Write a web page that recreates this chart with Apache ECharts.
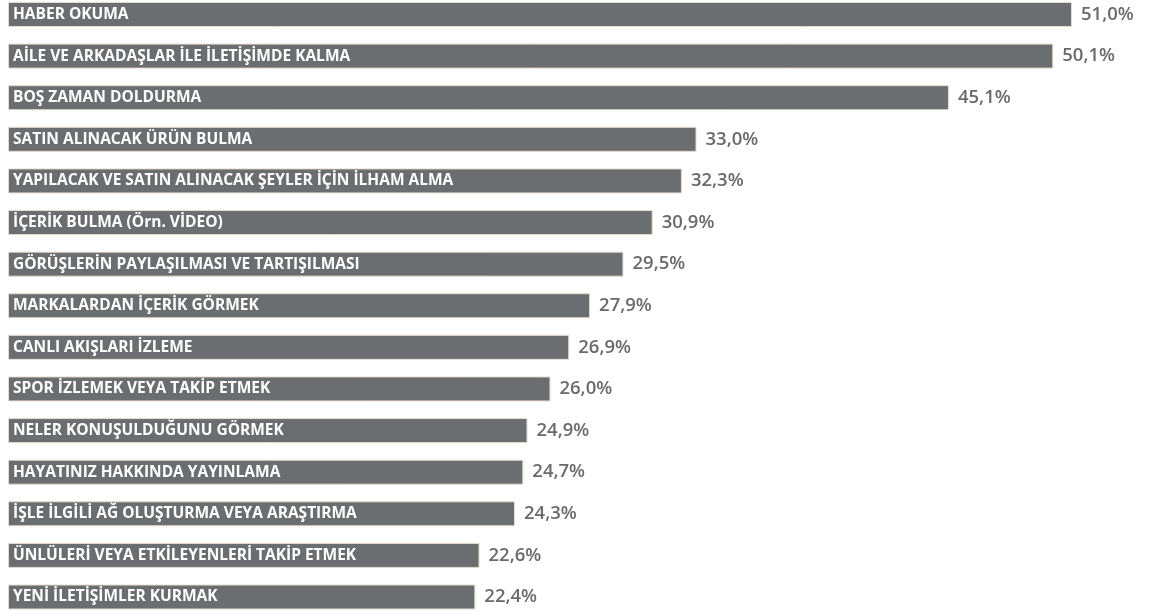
<!DOCTYPE html>
<html>
<head>
<meta charset="utf-8">
<script src="https://cdn.jsdelivr.net/npm/echarts@6/dist/echarts.min.js"></script>
<style>
  html, body { margin: 0; padding: 0; background: #fff; }
  #chart { width: 1170px; height: 614px; }
</style>
</head>
<body>
<div id="chart"></div>
<script>
  // kategoriler (yukaridan asagiya)
  var categories = [
    'HABER OKUMA',
    'AİLE VE ARKADAŞLAR İLE İLETİŞİMDE KALMA',
    'BOŞ ZAMAN DOLDURMA',
    'SATIN ALINACAK ÜRÜN BULMA',
    'YAPILACAK VE SATIN ALINACAK ŞEYLER İÇİN İLHAM ALMA',
    'İÇERİK BULMA (Örn. VİDEO)',
    'GÖRÜŞLERİN PAYLAŞILMASI VE TARTIŞILMASI',
    'MARKALARDAN İÇERİK GÖRMEK',
    'CANLI AKIŞLARI İZLEME',
    'SPOR İZLEMEK VEYA TAKİP ETMEK',
    'NELER KONUŞULDUĞUNU GÖRMEK',
    'HAYATINIZ HAKKINDA YAYINLAMA',
    'İŞLE İLGİLİ AĞ OLUŞTURMA VEYA ARAŞTIRMA',
    'ÜNLÜLERİ VEYA ETKİLEYENLERİ TAKİP ETMEK',
    'YENİ İLETİŞİMLER KURMAK'
  ];
  var values = [51.0, 50.1, 45.1, 33.0, 32.3, 30.9, 29.5, 27.9, 26.9, 26.0, 24.9, 24.7, 24.3, 22.6, 22.4];

  var chart = echarts.init(document.getElementById('chart'));

  function pct(v) {
    return v.toFixed(1).replace('.', ',') + '%';
  }

  var option = {
    animation: false,
    grid: { left: 8, right: 14.5, top: 14.5, bottom: 17, containLabel: false },
    xAxis: {
      type: 'value',
      min: 0,
      max: 55,
      show: false
    },
    yAxis: {
      type: 'category',
      data: categories,
      inverse: true,
      boundaryGap: false,
      show: false
    },
    series: [
      {
        type: 'bar',
        data: values,
        barWidth: 25,
        itemStyle: { color: '#6b6e70', borderColor: '#e6dccd', borderWidth: 1 },
        label: {
          show: true,
          position: 'insideLeft',
          distance: 5,
          formatter: function (p) { return p.name; },
          color: '#ffffff',
          fontFamily: 'Open Sans',
          fontWeight: 'bold',
          fontSize: 15.5
        }
      },
      {
        type: 'bar',
        data: values,
        barWidth: 25,
        barGap: '-100%',
        itemStyle: { color: 'transparent' },
        label: {
          show: true,
          position: 'right',
          distance: 9,
          formatter: function (p) { return pct(p.value); },
          color: '#6a6a6a',
          fontFamily: 'Open Sans',
          fontWeight: 600,
          fontSize: 18.5
        }
      }
    ]
  };
  chart.setOption(option);
</script>
</body>
</html>
